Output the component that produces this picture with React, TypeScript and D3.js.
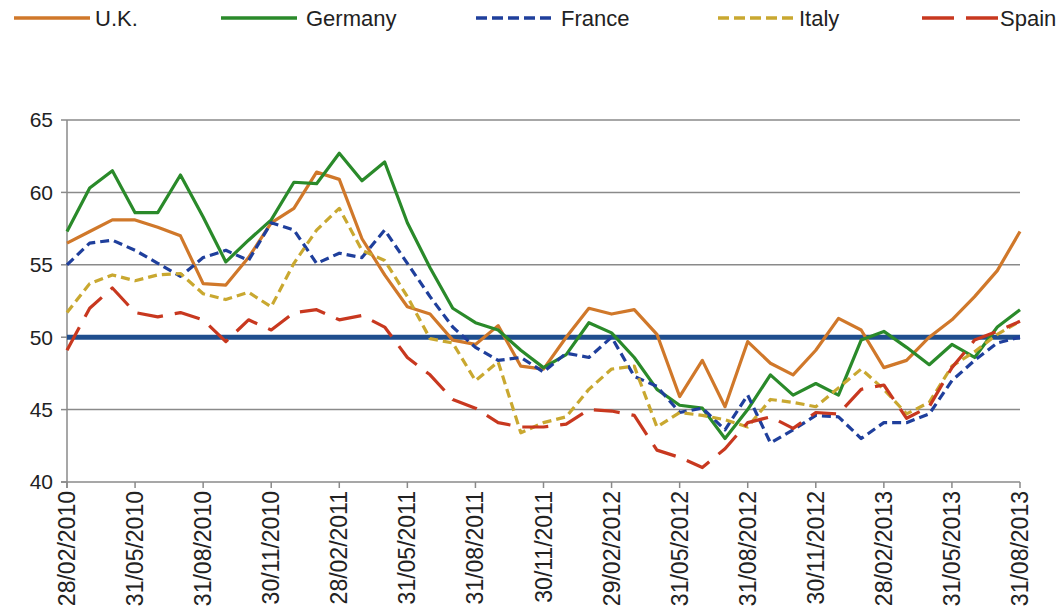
import * as React from "react";
import * as d3 from "d3";

// month-end categories, Feb 2010 .. Aug 2013
const monthStarts = d3.utcMonth.range(new Date(Date.UTC(2010, 1, 1)), new Date(Date.UTC(2013, 8, 1)));
const fmt = d3.utcFormat("%d/%m/%Y");
const categories = monthStarts.map((m) => fmt(d3.utcDay.offset(d3.utcMonth.offset(m, 1), -1)));

const tickLabels = [
  "28/02/2010", "31/05/2010", "31/08/2010", "30/11/2010", "28/02/2011",
  "31/05/2011", "31/08/2011", "30/11/2011", "29/02/2012", "31/05/2012",
  "31/08/2012", "30/11/2012", "28/02/2013", "31/05/2013", "31/08/2013",
];
const yTicks = [40, 45, 50, 55, 60, 65];

const uk = [
  56.5, 57.3, 58.1, 58.1, 57.6, 57.0, 53.7, 53.6, 55.5, 57.9, 58.9, 61.4, 60.9, 56.8, 54.3,
  52.1, 51.6, 49.8, 49.5, 50.8, 48.0, 47.8, 50.0, 52.0, 51.6, 51.9, 50.2, 45.9, 48.4, 45.2,
  49.7, 48.2, 47.4, 49.1, 51.3, 50.5, 47.9, 48.4, 50.0, 51.2, 52.8, 54.6, 57.3,
];
const germany = [
  57.3, 60.3, 61.5, 58.6, 58.6, 61.2, 58.3, 55.2, 56.7, 58.1, 60.7, 60.6, 62.7, 60.8, 62.1,
  57.9, 54.8, 52.0, 51.0, 50.5, 49.1, 47.9, 48.8, 51.0, 50.3, 48.6, 46.4, 45.3, 45.1, 43.0,
  45.0, 47.4, 46.0, 46.8, 46.0, 49.8, 50.4, 49.3, 48.1, 49.5, 48.6, 50.7, 51.9,
];
const france = [
  55.0, 56.5, 56.7, 56.0, 55.1, 54.2, 55.5, 56.0, 55.3, 57.9, 57.4, 55.1, 55.8, 55.5, 57.4,
  55.1, 52.8, 50.7, 49.3, 48.4, 48.6, 47.6, 48.9, 48.6, 50.0, 47.3, 46.6, 44.8, 45.1, 43.6,
  46.0, 42.7, 43.6, 44.6, 44.5, 43.0, 44.1, 44.1, 44.7, 47.0, 48.4, 49.6, 50.0,
];
const italy = [
  51.7, 53.7, 54.3, 53.9, 54.3, 54.4, 53.0, 52.6, 53.1, 52.1, 55.1, 57.4, 58.9, 56.0, 55.3,
  52.8, 49.9, 49.6, 47.0, 48.3, 43.4, 44.1, 44.5, 46.4, 47.8, 48.0, 43.8, 44.8, 44.6, 44.3,
  43.8, 45.7, 45.5, 45.2, 46.5, 47.8, 46.4, 44.7, 45.5, 48.0, 49.0, 50.2, 51.1,
];
const spain = [
  49.1, 52.0, 53.4, 51.7, 51.4, 51.7, 51.2, 49.7, 51.2, 50.5, 51.7, 51.9, 51.2, 51.5, 50.7,
  48.6, 47.4, 45.7, 45.1, 44.1, 43.8, 43.8, 44.0, 45.0, 44.9, 44.6, 42.2, 41.7, 41.0, 42.3,
  44.1, 44.5, 43.7, 44.8, 44.7, 46.4, 46.7, 44.4, 45.2, 47.9, 49.8, 50.4, 51.1,
];
const threshold = 50;

const series = [
  { name: "U.K.", values: uk, color: "#d0782a", dash: "", lx: 14, tx: 95 },
  { name: "Germany", values: germany, color: "#2a8a2a", dash: "", lx: 221, tx: 306 },
  { name: "France", values: france, color: "#1f3f9c", dash: "9,5", lx: 476, tx: 561 },
  { name: "Italy", values: italy, color: "#c9a830", dash: "9,5", lx: 718, tx: 799 },
  { name: "Spain", values: spain, color: "#c8381f", dash: "26,12", lx: 922, tx: 1000 },
];

const FONT = "'Liberation Sans', Arial, sans-serif";

export default function App() {
  const W = 1064, H = 615;
  const x = d3.scalePoint<string>().domain(categories).range([67, 1020]);
  const y = d3.scaleLinear().domain([40, 65]).range([482, 120]);
  const line = d3.line<number>()
    .x((_, i) => x(categories[i]) as number)
    .y((d) => y(d));

  const [x0, x1] = x.range();

  return (
    <svg width={W} height={H} style={{ position: "absolute", left: 0, top: 0, background: "#fff" }} fontFamily={FONT}>
      {/* legend */}
      {series.map((s) => (
        <g key={s.name}>
          <line x1={s.lx} x2={s.lx + 76} y1={18} y2={18} stroke={s.color} strokeWidth={3.5}
            strokeDasharray={s.name === "Spain" ? "32,12" : s.dash ? "11,5" : undefined} />
          <text x={s.tx} y={26} fontSize={22} fill="#222">{s.name}</text>
        </g>
      ))}

      {/* grid */}
      {yTicks.filter((t) => t !== 40).map((t) => (
        <line key={t} x1={x0} x2={x1} y1={y(t)} y2={y(t)} stroke="#8a8a8a" strokeWidth={1.5} />
      ))}

      {/* axes */}
      <line x1={x0} x2={x0} y1={y(65)} y2={y(40) + 6} stroke="#8a8a8a" strokeWidth={1.5} />
      <line x1={x0 - 6} x2={x1} y1={y(40)} y2={y(40)} stroke="#8a8a8a" strokeWidth={1.5} />
      {yTicks.map((t) => (
        <g key={t}>
          <line x1={x0 - 6} x2={x0} y1={y(t)} y2={y(t)} stroke="#8a8a8a" strokeWidth={1.5} />
          <text x={53} y={y(t)} dy="0.35em" textAnchor="end" fontSize={21} fill="#222">{t}</text>
        </g>
      ))}
      {tickLabels.map((lab) => {
        const px = x(lab) as number;
        return (
          <g key={lab}>
            <line x1={px} x2={px} y1={y(40)} y2={y(40) + 6} stroke="#8a8a8a" strokeWidth={1.5} />
            <text transform={`translate(${px},${y(40) + 9}) rotate(-90)`} dy="0.35em" textAnchor="end"
              fontSize={23} fill="#222">{lab}</text>
          </g>
        );
      })}

      {/* 50 reference line */}
      <line x1={x0} x2={x1} y1={y(threshold)} y2={y(threshold)} stroke="#1f4e8e" strokeWidth={5} />

      {/* series */}
      {series.map((s) => (
        <path key={s.name} d={line(s.values) || ""} fill="none" stroke={s.color} strokeWidth={3.2}
          strokeDasharray={s.dash || undefined} strokeLinejoin="round" />
      ))}
    </svg>
  );
}
